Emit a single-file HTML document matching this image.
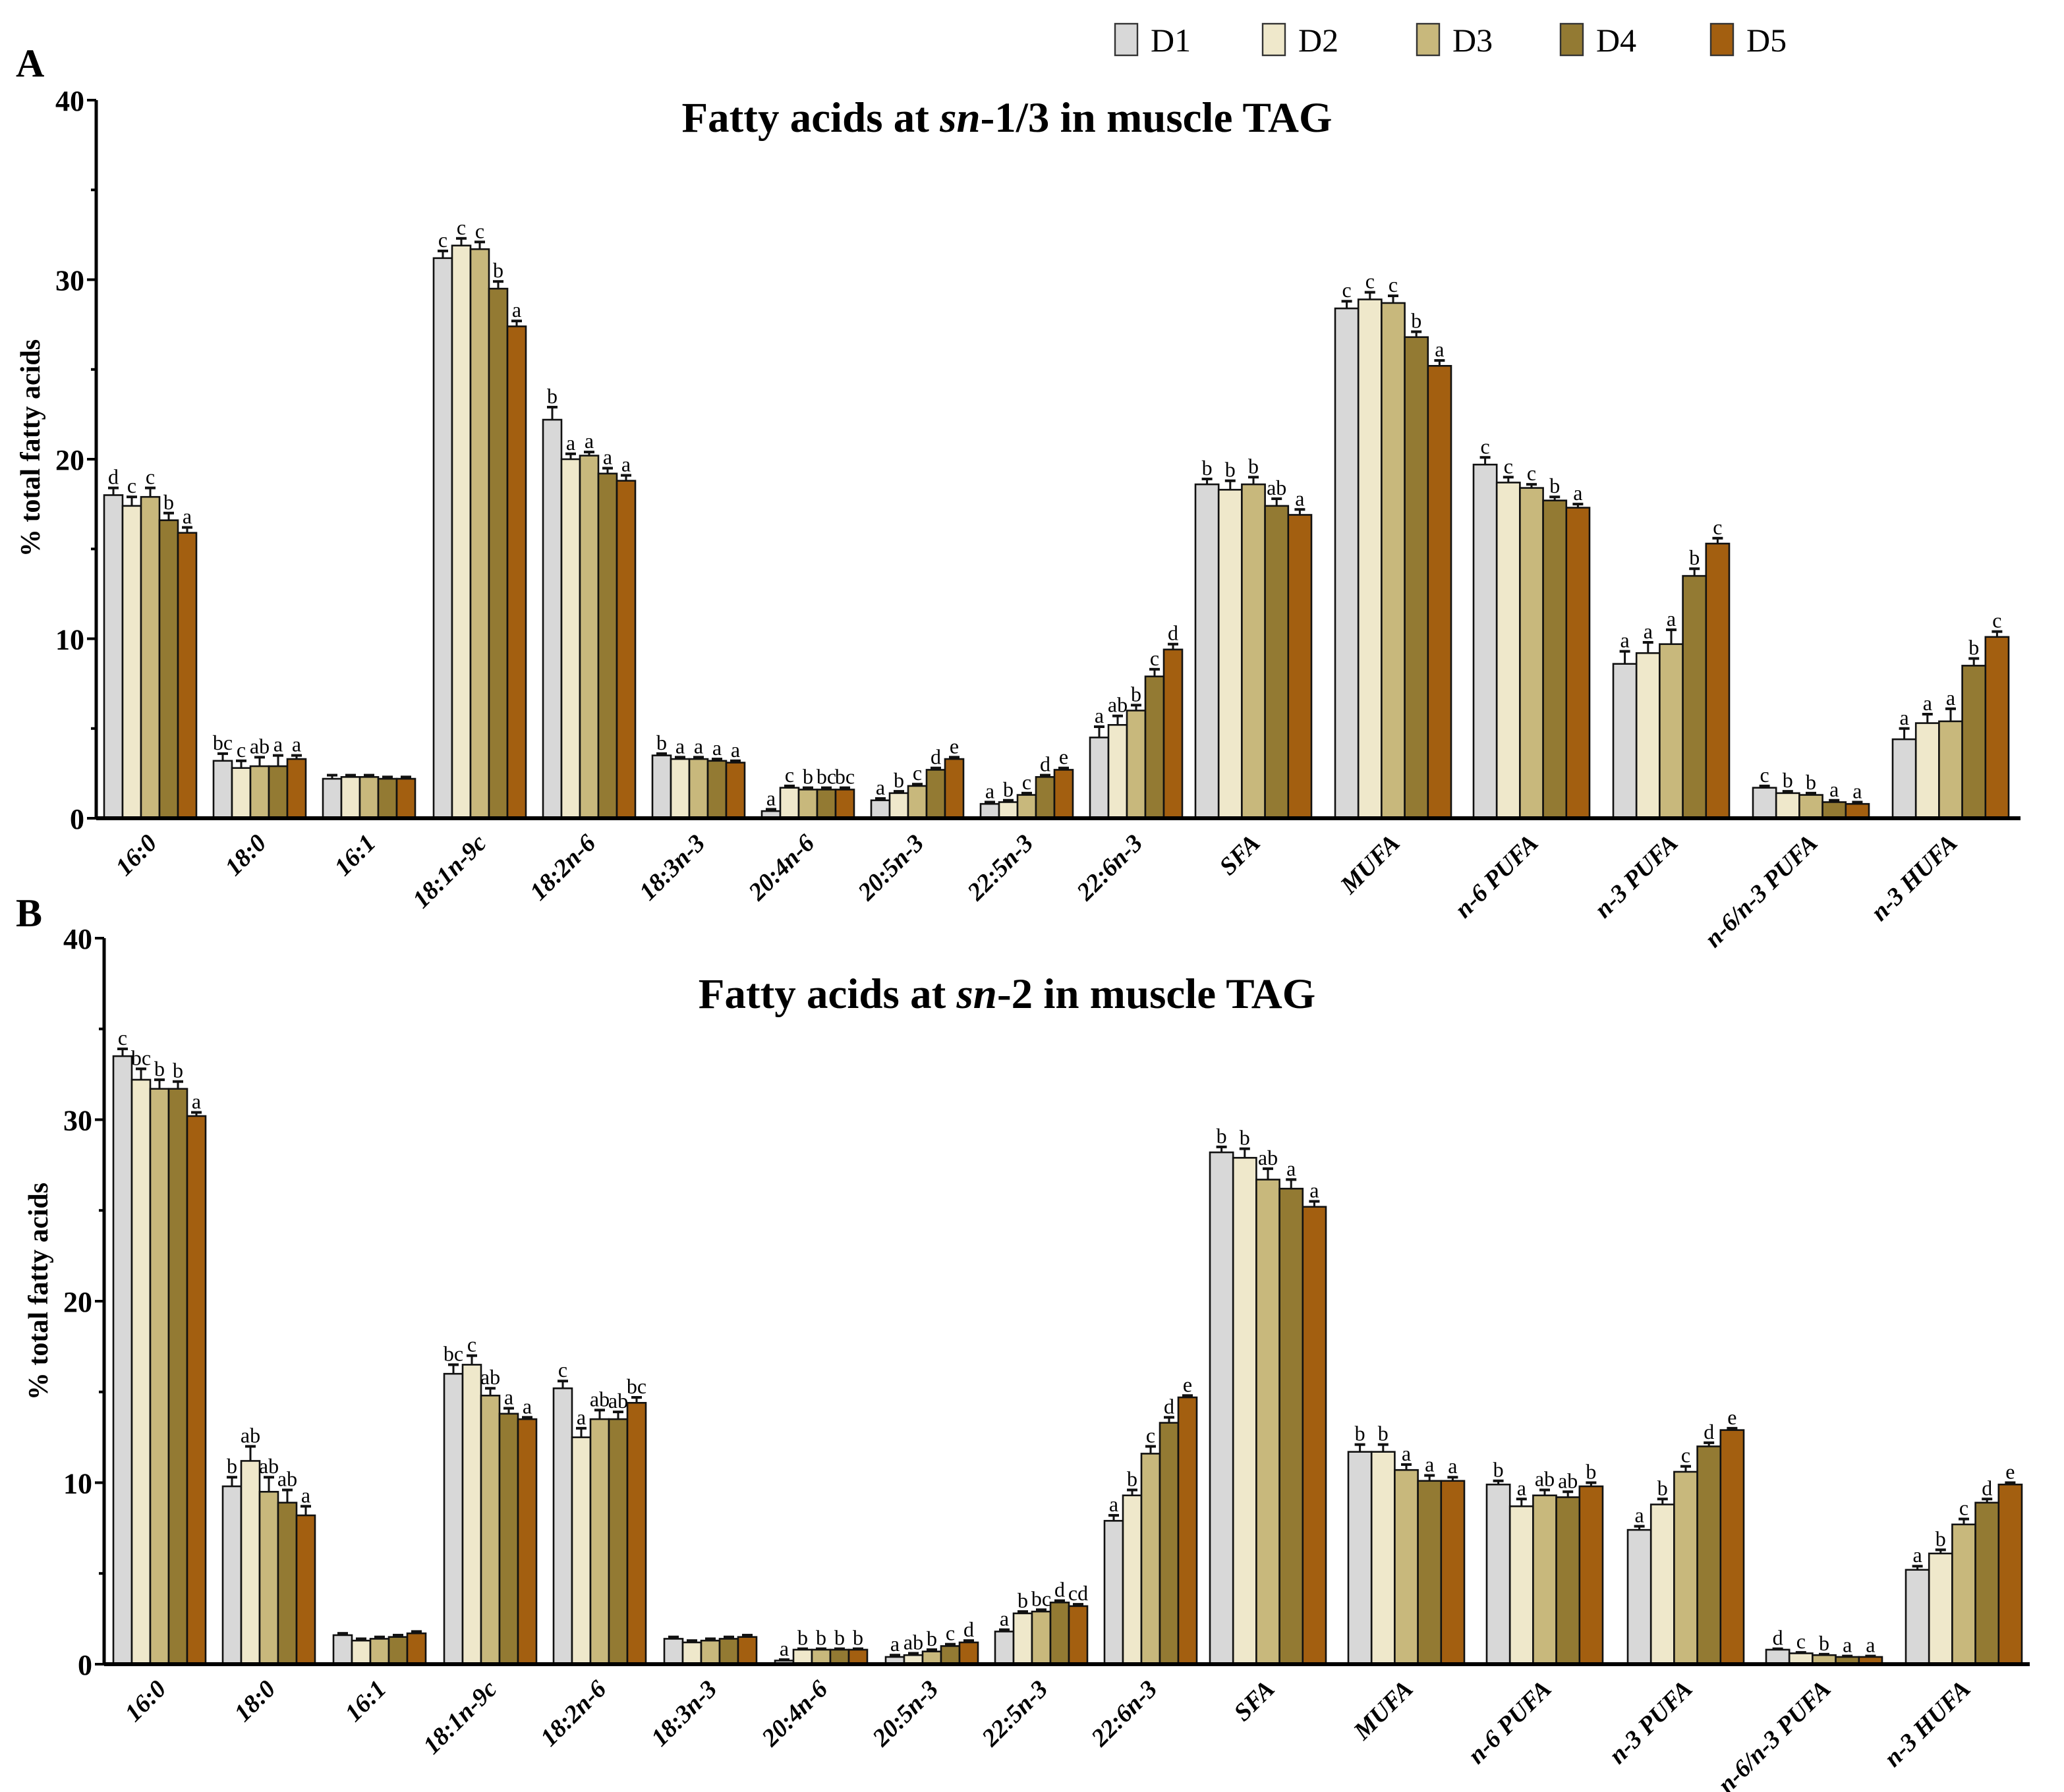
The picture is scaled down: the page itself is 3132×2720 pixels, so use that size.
<!DOCTYPE html>
<html><head><meta charset="utf-8"><style>
html,body{margin:0;padding:0;background:#fff;}
svg{display:block;font-family:"Liberation Serif",serif;}
</style></head><body>
<svg id="chart" width="3132" height="2720" viewBox="0 0 1566 1360" xmlns="http://www.w3.org/2000/svg"></svg>
<script>
const categories = ["16:0","18:0","16:1","18:1n-9c","18:2n-6","18:3n-3","20:4n-6","20:5n-3","22:5n-3","22:6n-3","SFA","MUFA","n-6 PUFA","n-3 PUFA","n-6/n-3 PUFA","n-3 HUFA"];
const seriesNames = ["D1","D2","D3","D4","D5"];
const colors = ["#d8d8d8","#efe8cb","#c8b87c","#937a33","#a35f10"];
const yTicks = [0,10,20,30,40];
// Panel A values per category: [D1..D5]
const valuesA = [
 [18.0,17.4,17.9,16.6,15.9],[3.2,2.8,2.9,2.9,3.3],[2.2,2.3,2.3,2.2,2.2],[31.2,31.9,31.7,29.5,27.4],
 [22.2,20.0,20.2,19.2,18.8],[3.5,3.3,3.3,3.2,3.1],[0.4,1.7,1.6,1.6,1.6],[1.0,1.4,1.8,2.7,3.3],
 [0.8,0.9,1.3,2.3,2.7],[4.5,5.2,6.0,7.9,9.4],[18.6,18.3,18.6,17.4,16.9],[28.4,28.9,28.7,26.8,25.2],
 [19.7,18.7,18.4,17.7,17.3],[8.6,9.2,9.7,13.5,15.3],[1.7,1.4,1.3,0.9,0.8],[4.4,5.3,5.4,8.5,10.1]];
const errorsA = [
 [0.4,0.5,0.5,0.4,0.3],[0.4,0.4,0.5,0.6,0.2],[0.2,0.1,0.1,0.1,0.1],[0.4,0.4,0.4,0.4,0.3],
 [0.7,0.3,0.2,0.3,0.3],[0.1,0.1,0.1,0.1,0.1],[0.1,0.1,0.1,0.1,0.1],[0.1,0.1,0.1,0.1,0.1],
 [0.1,0.1,0.1,0.1,0.1],[0.6,0.5,0.3,0.4,0.3],[0.3,0.5,0.4,0.4,0.3],[0.4,0.4,0.4,0.3,0.3],
 [0.4,0.3,0.2,0.2,0.2],[0.7,0.6,0.8,0.4,0.3],[0.1,0.1,0.1,0.1,0.1],[0.6,0.5,0.7,0.4,0.3]];
const lettersA = [
 ["d","c","c","b","a"],["bc","c","ab","a","a"],["","","","",""],["c","c","c","b","a"],
 ["b","a","a","a","a"],["b","a","a","a","a"],["a","c","b","bc","bc"],["a","b","c","d","e"],
 ["a","b","c","d","e"],["a","ab","b","c","d"],["b","b","b","ab","a"],["c","c","c","b","a"],
 ["c","c","c","b","a"],["a","a","a","b","c"],["c","b","b","a","a"],["a","a","a","b","c"]];
const valuesB = [
 [33.5,32.2,31.7,31.7,30.2],[9.8,11.2,9.5,8.9,8.2],[1.6,1.3,1.4,1.5,1.7],[16.0,16.5,14.8,13.8,13.5],
 [15.2,12.5,13.5,13.5,14.4],[1.4,1.2,1.3,1.4,1.5],[0.2,0.8,0.8,0.8,0.8],[0.4,0.5,0.7,1.0,1.2],
 [1.8,2.8,2.9,3.4,3.2],[7.9,9.3,11.6,13.3,14.7],[28.2,27.9,26.7,26.2,25.2],[11.7,11.7,10.7,10.1,10.1],
 [9.9,8.7,9.3,9.2,9.8],[7.4,8.8,10.6,12.0,12.9],[0.8,0.6,0.5,0.4,0.4],[5.2,6.1,7.7,8.9,9.9]];
const errorsB = [
 [0.4,0.6,0.5,0.4,0.2],[0.5,0.8,0.8,0.7,0.5],[0.1,0.1,0.1,0.1,0.1],[0.5,0.5,0.4,0.3,0.1],
 [0.4,0.5,0.5,0.4,0.3],[0.1,0.1,0.1,0.1,0.1],[0.05,0.05,0.05,0.05,0.05],[0.1,0.1,0.1,0.1,0.1],
 [0.1,0.1,0.1,0.1,0.1],[0.3,0.3,0.4,0.3,0.1],[0.3,0.5,0.6,0.5,0.3],[0.4,0.4,0.3,0.3,0.2],
 [0.2,0.4,0.3,0.3,0.2],[0.2,0.3,0.3,0.2,0.1],[0.05,0.05,0.05,0.05,0.05],[0.2,0.2,0.3,0.2,0.1]];
const lettersB = [
 ["c","bc","b","b","a"],["b","ab","ab","ab","a"],["","","","",""],["bc","c","ab","a","a"],
 ["c","a","ab","ab","bc"],["","","","",""],["a","b","b","b","b"],["a","ab","b","c","d"],
 ["a","b","bc","d","cd"],["a","b","c","d","e"],["b","b","ab","a","a"],["b","b","a","a","a"],
 ["b","a","ab","ab","b"],["a","b","c","d","e"],["d","c","b","a","a"],["a","b","c","d","e"]];

const NS="http://www.w3.org/2000/svg";
const svg=document.getElementById('chart');
function mk(tag,attrs,parent,text){const e=document.createElementNS(NS,tag);for(const k in attrs)e.setAttribute(k,attrs[k]);if(text!==undefined)e.textContent=text;(parent||svg).appendChild(e);return e;}

// legend
const legX=[846,958,1075,1184,1298];
seriesNames.forEach((n,i)=>{
  const g=mk('g',{});
  
  
  mk('rect',{x:legX[i],y:18,width:17,height:24,fill:colors[i],stroke:'#333','stroke-width':1.2},g);
  mk('text',{x:legX[i]+27,y:39,'font-size':25,fill:'#000'},g,n);
});

function panel(opts){
  const {label,labelY,axisX,y0,y40,xEnd,title,titleY,starts,vals,errs,lets,ylabX,ylabY,key}=opts;
  const g=mk('g',{});
  
  
  const yScale=v=>y0-(v/40)*(y0-y40);
  const pl=mk('text',{x:12,y:labelY,'font-size':30,'font-weight':'bold'},g,label);
  
  
  const tt=mk('text',{x:764,y:titleY,'font-size':32.5,'font-weight':'bold','text-anchor':'middle'},g);
  
  
  mk('tspan',{},tt,title[0]);mk('tspan',{'font-style':'italic'},tt,'sn');mk('tspan',{},tt,title[1]);
  const ya=mk('line',{x1:axisX,y1:y40,x2:axisX,y2:y0,stroke:'#000','stroke-width':2.5},g);
  
  
  for(let v=0;v<=40;v+=5){
    const yy=yScale(v);
    mk('line',{x1:axisX-(v%10===0?7:4),y1:yy,x2:axisX,y2:yy,stroke:'#000','stroke-width':2},g);
  }
  yTicks.forEach(v=>{
    const t=mk('text',{x:axisX-9,y:yScale(v)+8,'font-size':22,'font-weight':'bold','text-anchor':'end'},g,String(v));
    
    
  });
  const yl=mk('text',{x:ylabX,y:ylabY,'font-size':21,'font-weight':'bold','text-anchor':'middle',transform:`rotate(-90 ${ylabX} ${ylabY})`},g,'% total fatty acids');
  
  
  categories.forEach((c,ci)=>{
    const cg=mk('g',{},g);
    
    
    const bw= ci<10 ? 14 : 17.6;
    vals[ci].forEach((v,si)=>{
      const x=starts[ci]+si*bw;
      const top=yScale(v);
      const r=mk('rect',{x:x,y:top,width:bw,height:y0-top,fill:colors[si],stroke:'#111','stroke-width':1.3},cg);
      
      
      const cx=x+bw/2, et=yScale(v+errs[ci][si]);
      mk('line',{x1:cx,y1:top,x2:cx,y2:et,stroke:'#111','stroke-width':1.5},cg);
      mk('line',{x1:cx-4,y1:et,x2:cx+4,y2:et,stroke:'#111','stroke-width':2},cg);
      if(lets[ci][si]){
        const lt=mk('text',{x:cx,y:et-3,'font-size':16,'text-anchor':'middle'},cg,lets[ci][si]);
        
        
      }
    });
    const mid=starts[ci]+bw*2.5+6;
    const tl=mk('text',{x:mid,y:y0+20,'font-size':19,'font-weight':'bold','font-style':'italic','text-anchor':'end',transform:`rotate(-45 ${mid} ${y0+20})`},cg,c);
    
    
  });
  const xa=mk('line',{x1:axisX,y1:y0,x2:xEnd,y2:y0,stroke:'#000','stroke-width':3},g);
  
  
}
panel({key:'a',label:'A',labelY:58,axisX:73,y0:621,y40:76,xEnd:1533,title:['Fatty acids at ','-1/3 in muscle TAG'],titleY:100,
 starts:[79,162,245,329,412,495,578,661,744,827,907,1013,1118,1224,1330,1436],vals:valuesA,errs:errorsA,lets:lettersA,ylabX:30,ylabY:340});
panel({key:'b',label:'B',labelY:703,axisX:79,y0:1263,y40:712,xEnd:1540,title:['Fatty acids at ','-2 in muscle TAG'],titleY:765,
 starts:[86,169,253,337,420,504,588,672,755,838,918,1023,1128,1235,1340,1446],vals:valuesB,errs:errorsB,lets:lettersB,ylabX:36,ylabY:980});
</script>
</body></html>
